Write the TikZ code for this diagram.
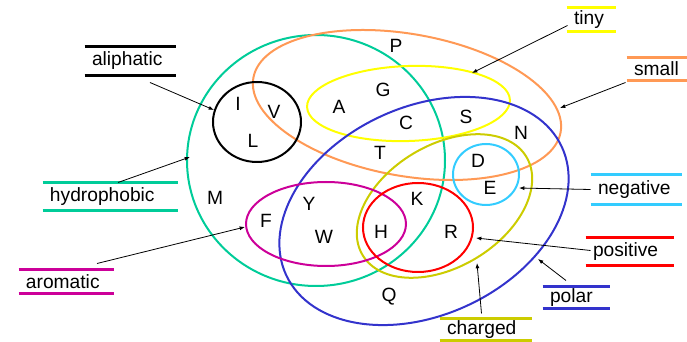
\documentclass[tikz,border=0pt]{standalone}
\usepackage{fontspec}
\setmainfont{Liberation Sans}
\usetikzlibrary{arrows.meta,calc}

\definecolor{hydrocol}{RGB}{0,204,153}
\definecolor{smallcol}{RGB}{255,153,85}
\definecolor{tinycol}{RGB}{255,255,0}
\definecolor{polarcol}{RGB}{51,51,204}
\definecolor{chargedcol}{RGB}{204,204,0}
\definecolor{negcol}{RGB}{51,204,255}
\definecolor{poscol}{RGB}{255,0,0}
\definecolor{aromcol}{RGB}{204,0,153}

\tikzset{every picture/.style={line width=0.75pt}}
\tikzset{
  aaset/.style={line width=1.5},
  aalabel/.style={inner sep=0pt, font=\fontsize{14.4}{16}\selectfont},
  tag/.style={inner xsep=5.25pt, inner ysep=0pt, align=left, font=\fontsize{14.4}{16}\selectfont},
  tagline/.style={line width=1.8},
  pointer/.style={line width=0.6, -{Latex[length=4pt,width=3pt]}}
}

\begin{document}
\begin{tikzpicture}[x=0.75pt,y=0.75pt,yscale=-1,xscale=1]
\useasboundingbox (0,0) rectangle (687,342);

%Shape: Ellipse hydrophobic
\draw [aaset, color=hydrocol] (316,160.5) ellipse (129 and 125.5);
%Shape: Ellipse small
\draw [aaset, color=smallcol, rotate around={10:(407,105)}] (407,105) ellipse (156 and 71);
%Shape: Ellipse tiny
\draw [aaset, color=tinycol, rotate around={-2:(408.5,103.5)}] (408.5,103.5) ellipse (101.5 and 37.5);
%Shape: Ellipse polar
\draw [aaset, color=polarcol, rotate around={-25:(424,211)}] (424,211) ellipse (152 and 104);
%Shape: Ellipse charged
\draw [aaset, color=chargedcol, rotate around={-31:(444.5,206)}] (444.5,206) ellipse (95.5 and 61);
%Shape: Ellipse aliphatic
\draw [aaset, color=black] (257,122) ellipse (44 and 40);
%Shape: Ellipse aromatic
\draw [aaset, color=aromcol] (326,224) ellipse (80 and 42);
%Shape: Ellipse positive
\draw [aaset, color=poscol] (418,227.5) ellipse (55 and 44.5);
%Shape: Ellipse negative
\draw [aaset, color=negcol] (486,174.5) ellipse (33 and 30.5);

% Amino acids
\node (P) at (396,46) [aalabel] {P};
\node (I) at (238,104) [aalabel] {I};
\node (V) at (274,112) [aalabel] {V};
\node (L) at (253,141) [aalabel] {L};
\node (A) at (339,107) [aalabel] {A};
\node (G) at (383,90) [aalabel] {G};
\node (C) at (406,123) [aalabel] {C};
\node (S) at (466,117) [aalabel] {S};
\node (T) at (380,153) [aalabel] {T};
\node (N) at (521,133) [aalabel] {N};
\node (D) at (478,161) [aalabel] {D};
\node (E) at (490,188) [aalabel] {E};
\node (M) at (215,198) [aalabel] {M};
\node (F) at (266,221) [aalabel] {F};
\node (Y) at (309,204) [aalabel] {Y};
\node (W) at (324,237) [aalabel] {W};
\node (K) at (417,199) [aalabel] {K};
\node (H) at (381,232) [aalabel] {H};
\node (R) at (451,232) [aalabel] {R};
\node (Q) at (389,297) [aalabel] {Q};

% Text Node
\node (aliphatic) at (130,61) [tag, text width=57pt, minimum height=21pt] {aliphatic};
\draw [tagline, color=black] (aliphatic.north west) -- (aliphatic.north east) (aliphatic.south west) -- (aliphatic.south east);
% Text Node
\node (hydrophobic) at (110,196.5) [tag, text width=90pt, minimum height=20.25pt] {hydrophobic};
\draw [tagline, color=hydrocol] (hydrophobic.north west) -- (hydrophobic.north east) (hydrophobic.south west) -- (hydrophobic.south east);
% Text Node
\node (aromatic) at (66,281.5) [tag, text width=60pt, minimum height=17.25pt] {aromatic};
\draw [tagline, color=aromcol] (aromatic.north west) -- (aromatic.north east) (aromatic.south west) -- (aromatic.south east);
% Text Node
\node (tiny) at (591,19.5) [tag, text width=25.5pt, minimum height=17.25pt] {tiny};
\draw [tagline, color=tinycol] (tiny.north west) -- (tiny.north east) (tiny.south west) -- (tiny.south east);
% Text Node
\node (small) at (657,69) [tag, text width=34.5pt, minimum height=16.5pt] {small};
\draw [tagline, color=smallcol] (small.north west) -- (small.north east) (small.south west) -- (small.south east);
% Text Node
\node (negative) at (636,189.5) [tag, text width=57pt, minimum height=21.75pt] {negative};
\draw [tagline, color=negcol] (negative.north west) -- (negative.north east) (negative.south west) -- (negative.south east);
% Text Node
\node (positive) at (629.5,251.5) [tag, text width=54.75pt, minimum height=20.25pt] {positive};
\draw [tagline, color=poscol] (positive.north west) -- (positive.north east) (positive.south west) -- (positive.south east);
% Text Node
\node (polar) at (576,297.5) [tag, text width=39pt, minimum height=15.75pt] {polar};
\draw [tagline, color=polarcol] (polar.north west) -- (polar.north east) (polar.south west) -- (polar.south east);
% Text Node
\node (charged) at (485.5,329.5) [tag, text width=57.75pt, minimum height=15.75pt] {charged};
\draw [tagline, color=chargedcol] (charged.north west) -- (charged.north east) (charged.south west) -- (charged.south east);

% Arrow tips on the sets
\coordinate (aliphatic-tip) at (214,110);
\coordinate (hydrophobic-tip) at (190,157);
\coordinate (aromatic-tip) at (245,227);
\coordinate (tiny-tip) at (472,73);
\coordinate (small-tip) at (560,108);
\coordinate (negative-tip) at (519,188);
\coordinate (positive-tip) at (476,238);
\coordinate (polar-tip) at (538,259);
\coordinate (charged-tip) at (477,263);

%Straight Lines
\draw [pointer] ($(aliphatic.south)+(20,7)$) -- (aliphatic-tip);
\draw [pointer] ($(hydrophobic.north)+(8,0)$) -- (hydrophobic-tip);
\draw [pointer] ($(aromatic.north)+(31,-6)$) -- (aromatic-tip);
\draw [pointer] ($(tiny.west)+(1,6)$) -- (tiny-tip);
\draw [pointer] ($(small.south west)+(-1,2)$) -- (small-tip);
\draw [pointer] (negative.west) -- (negative-tip);
\draw [pointer] ($(positive.west)+(5,-1)$) -- (positive-tip);
\draw [pointer] ($(polar.north)+(-10,-6)$) -- (polar-tip);
\draw [pointer] ($(charged.north)+(-4,-5)$) -- (charged-tip);

\end{tikzpicture}
\end{document}
